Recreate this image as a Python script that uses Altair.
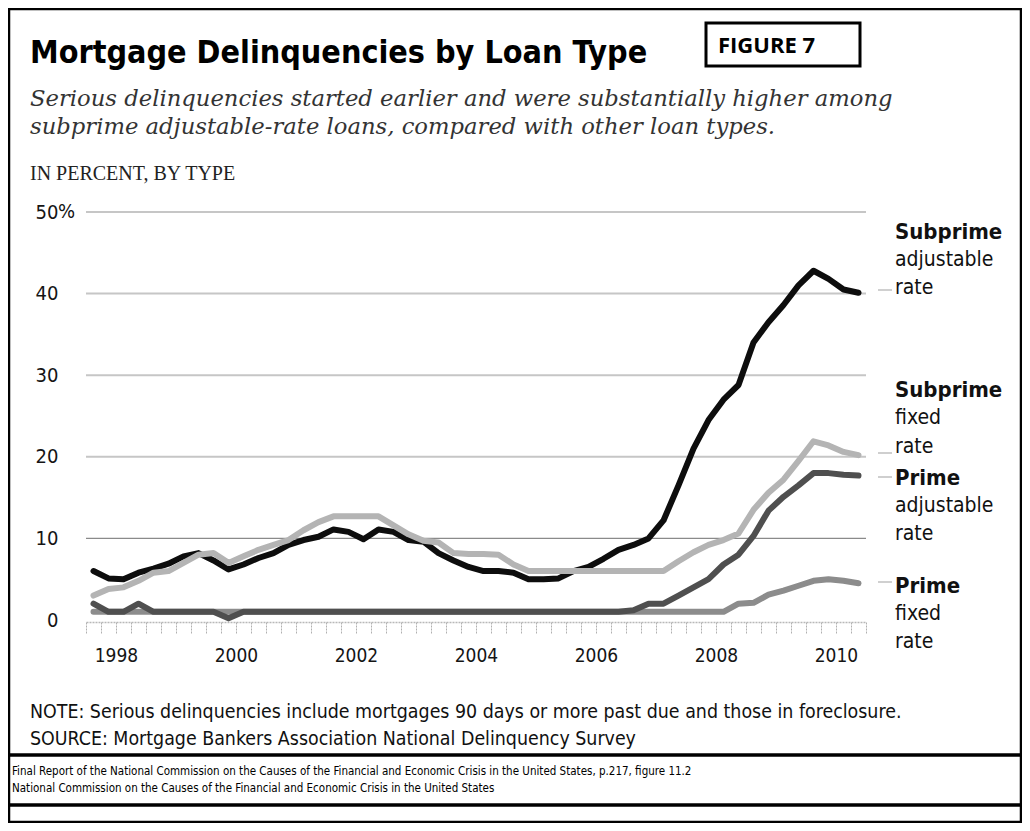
import altair as alt
import pandas as pd

# ---- data (quarterly) ----
quarters = [1997.625 + 0.25 * k for k in range(52)]

subprime_arm = [6.0, 5.1, 5.0, 5.8, 6.3, 6.9, 7.8, 8.2, 7.3, 6.2,
                6.8, 7.6, 8.2, 9.2, 9.8, 10.2, 11.1, 10.8, 9.9, 11.1,
                10.8, 9.8, 9.6, 8.2, 7.3, 6.5, 6.0, 6.0, 5.8, 5.0,
                5.0, 5.1, 6.0, 6.5, 7.5, 8.6, 9.2, 10.0, 12.2, 16.5,
                21.0, 24.5, 27.0, 28.8, 34.0, 36.5, 38.6, 41.0, 42.8, 41.8,
                40.5, 40.1]
subprime_fixed = [3.0, 3.8, 4.0, 4.8, 5.8, 6.0, 7.0, 8.0, 8.2, 7.0,
                  7.8, 8.6, 9.2, 9.8, 11.0, 12.0, 12.7, 12.7, 12.7, 12.7,
                  11.6, 10.5, 9.7, 9.5, 8.2, 8.1, 8.1, 8.0, 6.8, 6.0,
                  6.0, 6.0, 6.0, 6.0, 6.0, 6.0, 6.0, 6.0, 6.0, 7.2,
                  8.3, 9.2, 9.8, 10.6, 13.5, 15.6, 17.2, 19.5, 21.9, 21.4,
                  20.6, 20.2]
prime_arm = [2.0, 1.0, 1.0, 2.0, 1.0, 1.0, 1.0, 1.0, 1.0, 0.2,
             1.0, 1.0, 1.0, 1.0, 1.0, 1.0, 1.0, 1.0, 1.0, 1.0,
             1.0, 1.0, 1.0, 1.0, 1.0, 1.0, 1.0, 1.0, 1.0, 1.0,
             1.0, 1.0, 1.0, 1.0, 1.0, 1.0, 1.2, 2.0, 2.0, 3.0,
             4.0, 5.0, 6.8, 8.0, 10.3, 13.4, 15.1, 16.5, 18.0, 18.0,
             17.8, 17.7]
prime_fixed = [1.0, 1.0, 1.0, 1.0, 1.0, 1.0, 1.0, 1.0, 1.0, 1.0,
               1.0, 1.0, 1.0, 1.0, 1.0, 1.0, 1.0, 1.0, 1.0, 1.0,
               1.0, 1.0, 1.0, 1.0, 1.0, 1.0, 1.0, 1.0, 1.0, 1.0,
               1.0, 1.0, 1.0, 1.0, 1.0, 1.0, 1.0, 1.0, 1.0, 1.0,
               1.0, 1.0, 1.0, 2.0, 2.1, 3.1, 3.6, 4.2, 4.8, 5.0,
               4.8, 4.5]

y_ticks = [0, 10, 20, 30, 40, 50]
light_grid = [20, 30, 40, 50]
dark_grid = [10]
x_ticks = [1997.5 + 0.25 * i for i in range(53)]

title = "Mortgage Delinquencies by Loan Type"
subtitle = ["Serious delinquencies started earlier and were substantially higher among",
            "subprime adjustable-rate loans, compared with other loan types."]
unit_label = "IN PERCENT, BY TYPE"
note = "NOTE: Serious delinquencies include mortgages 90 days or more past due and those in foreclosure."
source = "SOURCE: Mortgage Bankers Association National Delinquency Survey"
footer = ["Final Report of the National Commission on the Causes of the Financial and Economic Crisis in the United States, p.217, figure 11.2",
          "National Commission on the Causes of the Financial and Economic Crisis in the United States"]

series = [
    ("Prime fixed rate", prime_fixed, "#8c8c8c"),
    ("Prime adjustable rate", prime_arm, "#4f4f4f"),
    ("Subprime adjustable rate", subprime_arm, "#0d0d0d"),
    ("Subprime fixed rate", subprime_fixed, "#b4b4b4"),
]

COND = "DejaVu Sans Condensed, Liberation Sans Narrow, sans-serif"
W, H = 780, 408

xscale = alt.Scale(domain=[1997.5, 2010.5], nice=False, zero=False)
yscale = alt.Scale(domain=[0, 50], nice=False)

x_axis = alt.Axis(values=x_ticks, labelExpr="datum.value % 2 == 0 ? format(datum.value, 'd') : ''",
                  grid=False, domainColor="#b8b8b8", domainWidth=1.5, domainDash=[2, 1],
                  tickColor="#b0b0b0", tickSize=11, tickWidth=1, tickDash=[2, 1],
                  labelFont=COND, labelFontSize=19, labelColor="#151515", labelPadding=13,
                  labelOverlap=False, labelFlush=False, title=None, offset=2)
y_axis = alt.Axis(values=y_ticks, grid=False, domain=False, ticks=False, tickSize=0,
                  labelAlign="right", labelBaseline="middle", labelPadding=28,
                  labelFont=COND, labelFontSize=20, labelColor="#151515", title=None)

grid_light = alt.Chart(pd.DataFrame({"g": light_grid})).mark_rule(
    color="#c6c6c6", strokeWidth=2).encode(
    y=alt.Y("g:Q", scale=yscale, axis=y_axis))
grid_dark = alt.Chart(pd.DataFrame({"g": dark_grid})).mark_rule(
    color="#8a8a8a", strokeWidth=1.3).encode(y=alt.Y("g:Q", scale=yscale, axis=y_axis))

layers = [grid_light, grid_dark]
for name, vals, col in series:
    df = pd.DataFrame({"t": quarters, "v": vals, "s": name})
    layers.append(alt.Chart(df).mark_line(color=col, strokeWidth=6, strokeCap="round",
                                          strokeJoin="round").encode(
        x=alt.X("t:Q", scale=xscale, axis=x_axis),
        y=alt.Y("v:Q", scale=yscale, axis=y_axis)))


def txt(s, x, y, size, font=COND, weight="normal", style="normal", align="left",
        baseline="middle", color="#111111"):
    return alt.Chart(pd.DataFrame({"s": [s]})).mark_text(
        font=font, fontSize=size, fontWeight=weight, fontStyle=style, align=align,
        baseline=baseline, color=color).encode(
        x=alt.value(x), y=alt.value(y), text="s:N")


def hline(x1, x2, y, color="#000000", width=3):
    return alt.Chart(pd.DataFrame({"a": [0]})).mark_rule(color=color, strokeWidth=width).encode(
        x=alt.value(x1), x2=alt.value(x2), y=alt.value(y))


def box(x1, y1, x2, y2, width=3):
    return alt.Chart(pd.DataFrame({"a": [0]})).mark_rect(
        filled=False, stroke="#000000", strokeWidth=width).encode(
        x=alt.value(x1), x2=alt.value(x2), y=alt.value(y1), y2=alt.value(y2))


OX, OY = 86, 212  # page position of the plot origin

annots = [
    txt("%", 58 - OX, 212 - OY, 20),
    txt(title, 30 - OX, 63 - OY, 32, weight="bold", baseline="alphabetic", color="#000000"),
    box(706 - OX, 23 - OY, 860 - OX, 66 - OY),
    txt("FIGURE 7", 718 - OX, 53 - OY, 22, font="Open Sans", weight="bold",
        baseline="alphabetic", color="#000000"),
    txt(subtitle[0], 30 - OX, 106 - OY, 22.7, font="DejaVu Serif", style="italic",
        baseline="alphabetic", color="#333333"),
    txt(subtitle[1], 30 - OX, 134 - OY, 22.7, font="DejaVu Serif", style="italic",
        baseline="alphabetic", color="#333333"),
    txt(unit_label, 30 - OX, 180 - OY, 20, font="Liberation Serif", baseline="alphabetic",
        color="#222222"),
    txt(note, 30 - OX, 712 - OY, 19.4),
    txt(source, 30 - OX, 739 - OY, 19.4),
    hline(8 - OX, 1022 - OX, 755 - OY, width=3.5),
    hline(8 - OX, 1022 - OX, 805 - OY, width=3.5),
    txt(footer[0], 12 - OX, 772 - OY, 11.5, color="#000000"),
    txt(footer[1], 12 - OX, 789 - OY, 11.5, color="#000000"),
    box(9 - OX, 9 - OY, 1021 - OX, 822 - OY, width=2.5),
]

label_groups = [
    (["Subprime", "adjustable", "rate"], [232, 260, 288], 290),
    (["Subprime", "fixed", "rate"], [390, 418, 447], 453),
    (["Prime", "adjustable", "rate"], [478, 506, 534], 477),
    (["Prime", "fixed", "rate"], [586, 614, 642], 582),
]
for words, ys, dash_y in label_groups:
    for i, (w_, yy) in enumerate(zip(words, ys)):
        annots.append(txt(w_, 895 - OX, yy - OY, 22 if i == 0 else 21,
                          weight="bold" if i == 0 else "normal", color="#111111"))
    annots.append(hline(878 - OX, 892 - OX, dash_y - OY, color="#b0b0b0", width=1.2))

chart = alt.layer(*layers, *annots).properties(
    width=W, height=H,
    autosize=alt.AutoSizeParams(type="none"),
    padding={"left": 78, "top": 204, "right": 156, "bottom": 203},
    background="white",
).configure_view(stroke=None)

chart.save("out.html", embed_options={"renderer": "svg", "actions": False})
